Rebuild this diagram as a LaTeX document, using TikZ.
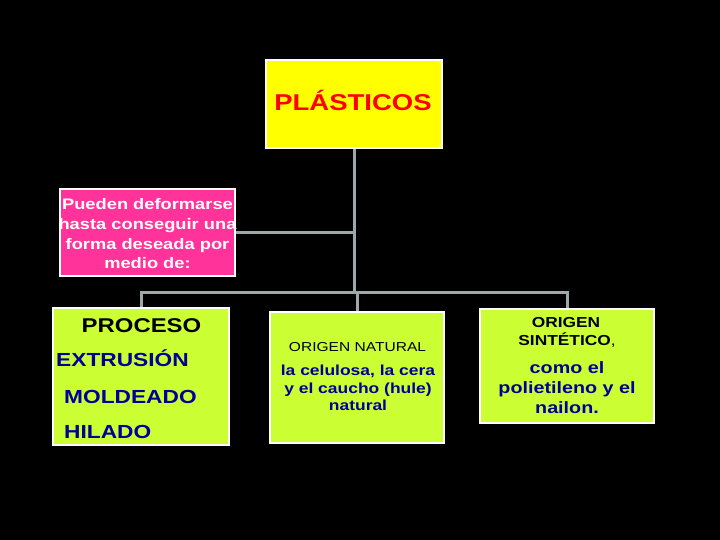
\documentclass[tikz,border=0pt]{standalone}
\usepackage{fontspec}
\setmainfont{Liberation Sans}[FakeStretch=1.2]
\usetikzlibrary{positioning}
\definecolor{amarillo}{HTML}{FFFF00}
\definecolor{rosa}{HTML}{FF3399}
\definecolor{lima}{HTML}{CCFF33}
\definecolor{azul}{HTML}{000099}
\definecolor{gris}{HTML}{9FA8A8}
\definecolor{rojo}{HTML}{FF0000}
\begin{document}
\begin{tikzpicture}[x=1bp,y=-1bp,
	caja/.style={draw=white,line width=2bp,inner sep=0pt},
	linea/.style={draw=gris,line width=3bp},
	txt/.style={inner sep=0pt,anchor=base,font=\bfseries\fontsize{#1}{#1}\selectfont}]
		\fill[black] (0,0) rectangle (720,540);
		\useasboundingbox (0,0) rectangle (720,540);
		% cajas
		\node[caja,fill=amarillo,minimum width=176bp,minimum height=88bp] (plasticos) at (354,104) {};
		\node[caja,fill=rosa,minimum width=175bp,minimum height=87bp] (medio) at (147.5,232.5) {};
		\node[caja,fill=lima,minimum width=176bp,minimum height=137bp] (proceso) at (141,376.5) {};
		\node[caja,fill=lima,minimum width=174bp,minimum height=131bp] (natural) at (357,377.5) {};
		\node[caja,fill=lima,minimum width=174bp,minimum height=114bp] (sintetico) at (567,366) {};
		% lineas
		\coordinate (nivel) at (0,292);
		\coordinate (cruce) at (plasticos.south |- nivel);
		\draw[linea] (plasticos.south) -- (cruce);
		\draw[linea] (medio.east) -- (medio.east -| plasticos.south);
		\draw[linea] (proceso.north) |- (cruce);
		\draw[linea] (sintetico.north) |- (cruce);
		\draw[linea] (natural.north) -- (natural.north |- nivel);
		% textos
		\node[txt=23,text=rojo] (titulo) at (353,111) {PLÁSTICOS};
		\foreach \n/\t/\y in {1/Pueden deformarse/210,2/hasta conseguir una/230,3/forma deseada por/250,4/medio de:/269}
			\node[txt=15.3,text=white] (medio\n) at (147.5,\y) {\t};
		\node[txt=20] (proc) at (141.5,332) {PROCESO};
		\node[txt=19,anchor=base west,text=azul] (extrusion) at (56,366) {EXTRUSIÓN};
		\node[txt=19,anchor=base west,text=azul] (moldeado) at (64,403) {MOLDEADO};
		\node[txt=19,anchor=base west,text=azul] (hilado) at (64,438) {HILADO};
		\node[inner sep=0pt,anchor=base,font=\fontsize{13}{13}\selectfont] (orinat) at (357.5,351) {ORIGEN NATURAL};
		\foreach \n/\t/\y in {1/{la celulosa, la cera}/375,2/y el caucho (hule)/393,3/natural/410}
			\node[txt=14.6,text=azul] (nat\n) at (358,\y) {\t};
		\node[txt=14.5] (orisin) at (566,327) {ORIGEN};
		\node[txt=14.5] (sint) at (567,345) {SINTÉTICO{\mdseries,}};
		\foreach \n/\t/\y in {1/como el/373,2/polietileno y el/393,3/nailon./413}
			\node[txt=16.5,text=azul] (sin\n) at (567,\y) {\t};
	\end{tikzpicture}
\end{document}
